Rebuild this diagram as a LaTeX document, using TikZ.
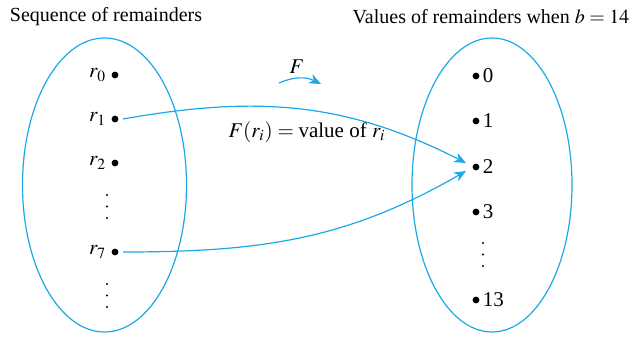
\documentclass[tikz,border=0pt]{standalone}
\usepackage{mathptmx}
\usepackage{fontspec}
\setmainfont{Liberation Serif}
\usetikzlibrary{positioning, arrows.meta, shapes.geometric}
\definecolor{setcyan}{HTML}{1BA9E6}

\begin{document}
\begin{tikzpicture}[
      x=0.5pt, y=-0.5pt,
      every node/.style={font=\fontsize{10.5}{12}\selectfont},
      title/.style={font=\fontsize{10}{12}\selectfont},
      setshape/.style={draw=setcyan, ellipse, line width=0.6pt, inner sep=0pt},
      elem/.style={circle, fill=black, inner sep=0pt, minimum size=3.4pt},
      vdot/.style={circle, fill=black, inner sep=0pt, minimum size=1.2pt},
      map/.style={draw=setcyan, line width=0.6pt, -{Stealth[length=6pt, width=5pt]}},
    ]
    \useasboundingbox (0,0) rectangle (631,341);
    % Titles
    \node[title] (tleft)  at (106,17) {Sequence of remainders};
    \node[title] (tright) at (491,17) {Values of remainders when $b = 14$};
    % Sets
    \node[setshape, minimum width=82pt, minimum height=147pt] (dom) at (104.5,185) {};
    \node[setshape, minimum width=80pt, minimum height=147pt] (cod) at (492,185) {};
    % Domain elements
    \node[elem, label={[xshift=1pt]left:$r_0$}] (r0) at (115,75) {};
    \node[elem, label={[xshift=1pt]left:$r_1$}] (r1) at (115,119) {};
    \node[elem, label={[xshift=1pt]left:$r_2$}] (r2) at (115,163) {};
    \node[elem, label={[xshift=1pt]left:$r_7$}] (r7) at (115,252) {};
    % Codomain elements
    \node[elem, label={[xshift=-2pt]right:0}]  (v0)  at (476,76) {};
    \node[elem, label={[xshift=-2pt]right:1}]  (v1)  at (476,121) {};
    \node[elem, label={[xshift=-2pt]right:2}]  (v2)  at (476,167) {};
    \node[elem, label={[xshift=-2pt]right:3}]  (v3)  at (476,212) {};
    \node[elem, label={[xshift=-2pt]right:13}] (v13) at (476,300) {};
    % Vertical ellipses
    \foreach \x/\y in {107/195, 107/284, 483/243}
      \foreach \k in {0,1,2}
        \node[vdot] at (\x,\y+11.5*\k) {};
    % Mapping
    \coordinate (fa) at (279,83);
    \coordinate (fb) at (321,84);
    \node (flabel) at (297,67) {$F$};
    \draw[map] (fa) to[bend left=25] (fb);
    \node (rule) at (307,132) {$F(r_i) = \mbox{value of } r_i$};
    \draw[map] ([xshift=4pt]r1.center) to[out=10, in=153] ([xshift=-5pt,yshift=2pt]v2.center);
    \draw[map] ([xshift=4pt]r7.center) to[out=0, in=-150] ([xshift=-5pt,yshift=-2pt]v2.center);
  \end{tikzpicture}
\end{document}
